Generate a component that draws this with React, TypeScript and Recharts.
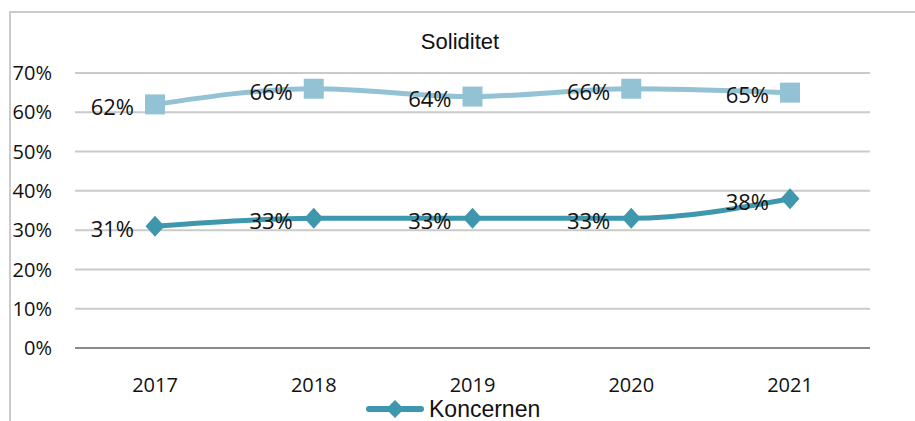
import { CartesianGrid, LabelList, Legend, Line, LineChart, ReferenceLine, XAxis, YAxis } from 'recharts'

const years = ['2017', '2018', '2019', '2020', '2021']
const upperValues = [62, 66, 64, 66, 65]
const koncernenValues = [31, 33, 33, 33, 38]
const yTicks = [0, 10, 20, 30, 40, 50, 60, 70]

const data = years.map((year, i) => ({ year, upper: upperValues[i], koncernen: koncernenValues[i] }))

const lightBlue = '#92c2d4'
const tealBlue = '#3e97ad'
const tickStyle = { fontSize: 20, fill: '#111', fontFamily: '"Open Sans", sans-serif' }
const labelStyle = { fontSize: 22, fill: '#111', fontFamily: '"Open Sans", sans-serif' }

function SquareDot(props: any) {
  const { cx, cy } = props
  if (cx == null || cy == null) return null
  return <rect x={cx - 10} y={cy - 10} width={20} height={20} fill={lightBlue} />
}

function DiamondDot(props: any) {
  const { cx, cy } = props
  if (cx == null || cy == null) return null
  return <polygon points={`${cx},${cy - 10.5} ${cx + 9.5},${cy} ${cx},${cy + 10.5} ${cx - 9.5},${cy}`} fill={tealBlue} />
}

function LegendContent() {
  return (
    <div style={{ display: 'flex', alignItems: 'center', height: 24, paddingLeft: 356 }}>
      <svg width={58} height={24}>
        <line x1={3} y1={12} x2={55} y2={12} stroke={tealBlue} strokeWidth={6} strokeLinecap="round" />
        <polygon points="29,3 38,12 29,21 20,12" fill={tealBlue} />
      </svg>
      <span style={{ fontFamily: '"Liberation Sans", Arial, sans-serif', fontSize: 23, color: '#111', marginLeft: 5 }}>Koncernen</span>
    </div>
  )
}

const pct = (v: any) => `${v}%`

export default function App() {
  return (
    <div style={{ position: 'absolute', left: 0, top: 0, width: 915, height: 421, background: '#fff', overflow: 'hidden' }}>
      <div style={{ position: 'absolute', left: 9, top: 11, width: 920, height: 420, borderTop: '2px solid #cbcbcb', borderLeft: '2px solid #cbcbcb' }} />
      <div style={{ position: 'absolute', left: 0, top: 29, width: 920, textAlign: 'center', fontFamily: '"Liberation Sans", Arial, sans-serif', fontSize: 22, color: '#111', lineHeight: '26px' }}>
        Soliditet
      </div>
      <LineChart width={915} height={421} data={data} margin={{ top: 73, right: 45, bottom: 0, left: 10 }}>
        <CartesianGrid horizontal vertical={false} stroke="#cacaca" strokeWidth={2} />
        <XAxis dataKey="year" axisLine={false} tickLine={false} tick={tickStyle} tickMargin={24} height={49} padding={{ left: 80, right: 80 }} />
        <YAxis domain={[0, 70]} ticks={yTicks} tickFormatter={pct} axisLine={false} tickLine={false} tick={tickStyle} tickMargin={17} width={65} interval={0} />
        <ReferenceLine y={0} stroke="#8a8a8a" strokeWidth={2} />
        <Legend verticalAlign="bottom" height={24} content={() => <LegendContent />} />
        <Line type="monotone" dataKey="upper" stroke={lightBlue} strokeWidth={5} dot={<SquareDot />} activeDot={false} legendType="none" isAnimationActive={false}>
          <LabelList dataKey="upper" position="left" offset={21} formatter={pct} style={labelStyle} dy={3} />
        </Line>
        <Line type="monotone" dataKey="koncernen" name="Koncernen" stroke={tealBlue} strokeWidth={5} dot={<DiamondDot />} activeDot={false} isAnimationActive={false}>
          <LabelList dataKey="koncernen" position="left" offset={21} formatter={pct} style={labelStyle} dy={3} />
        </Line>
      </LineChart>
    </div>
  )
}
